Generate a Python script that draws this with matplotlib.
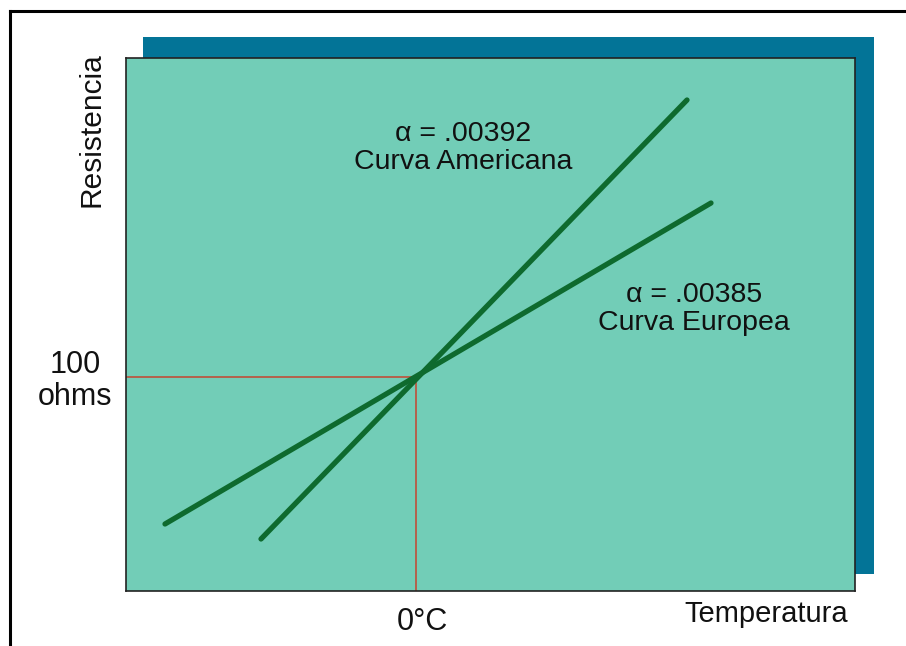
import matplotlib
matplotlib.use("Agg")
import matplotlib.pyplot as plt
from matplotlib.patches import Rectangle
from matplotlib.lines import Line2D

plt.rcParams['font.family'] = ['Liberation Sans', 'DejaVu Sans']

# Schematic data (arbitrary units; 0 °C and 100 ohms is the crossing point)
temp_limits = [-290, 439]
res_limits = [57.2, 163.8]
ref_temp = 0
ref_res = 100

american_temp = [-155, 271]
american_res = [67.6, 155.4]
european_temp = [-251, 295]
european_res = [70.6, 134.8]

american_label = "α = .00392\nCurva Americana"
european_label = "α = .00385\nCurva Europea"

W, H = 906, 646
fig = plt.figure(figsize=(W / 100, H / 100), dpi=100)
fig.patch.set_facecolor("white")

# shadow panel
fig.patches.append(Rectangle((143 / W, 1 - 574 / H), 731 / W, 537 / H,
                             transform=fig.transFigure, facecolor="#037497",
                             edgecolor="none", zorder=0))
# frame lines (top and left)
fig.add_artist(Line2D([10 / W, 1], [1 - 11 / H, 1 - 11 / H], transform=fig.transFigure,
                      color="black", lw=2.2))
fig.add_artist(Line2D([10 / W, 10 / W], [0, 1 - 11 / H], transform=fig.transFigure,
                      color="black", lw=2.2))

ax = fig.add_axes([126 / W, 1 - 591 / H, 729 / W, 533 / H], zorder=2)
ax.set_facecolor("#72cdb7")
ax.set_xlim(temp_limits)
ax.set_ylim(res_limits)
ax.set_xticks([])
ax.set_yticks([])
for s in ax.spines.values():
    s.set_color("#222222")
    s.set_linewidth(1.2)

red = "#c0503a"
ax.plot([temp_limits[0], ref_temp], [ref_res, ref_res], color=red, lw=1.2, zorder=2)
ax.plot([ref_temp, ref_temp], [res_limits[0], ref_res], color=red, lw=1.2, zorder=2)

green = "#0e6a2e"
ax.plot(american_temp, american_res, color=green, lw=3.8, solid_capstyle="round", zorder=3)
ax.plot(european_temp, european_res, color=green, lw=3.8, solid_capstyle="round", zorder=3)

fs = 20.5
ax.text(463 / W, 1 - 148 / H, american_label, transform=fig.transFigure, ha="center",
        va="center", fontsize=fs, linespacing=1.12, color="#111111")
ax.text(694 / W, 1 - 309 / H, european_label, transform=fig.transFigure, ha="center",
        va="center", fontsize=fs, linespacing=1.12, color="#111111")

fig.text(92 / W, 1 - 130 / H, "Resistencia", rotation=90, ha="center", va="center",
         fontsize=21.5, color="#111111")
fig.text(75 / W, 1 - 381 / H, "100\nohms", ha="center", va="center",
         fontsize=22, linespacing=1.08, color="#111111")
fig.text(422 / W, 1 - 622 / H, "0°C", ha="center", va="center",
         fontsize=22, color="#111111")
fig.text(766 / W, 1 - 614 / H, "Temperatura", ha="center", va="center",
         fontsize=21, color="#111111")

fig.savefig("out.png", dpi=100)
